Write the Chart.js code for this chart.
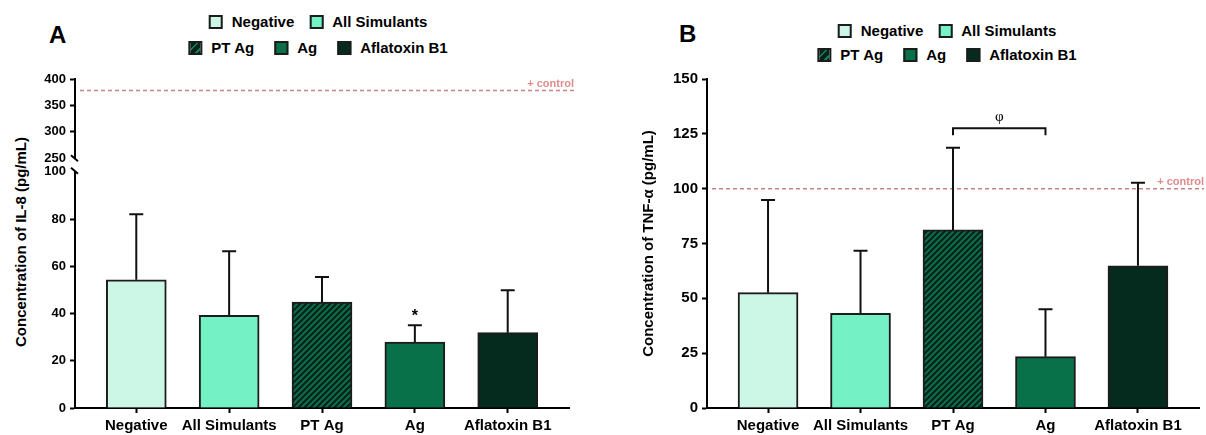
<!DOCTYPE html>
<html lang="en">
<head>
<meta charset="utf-8">
<title>IL-8 and TNF-α concentrations</title>
<script src="https://cdn.jsdelivr.net/npm/chart.js@4.4.1/dist/chart.umd.min.js"></script>
<style>
  body { margin: 0; background: #fff; }
  #page { position: relative; width: 1206px; height: 435px; overflow: hidden;
          font-family: 'Liberation Sans', Arial, sans-serif; font-weight: bold; color: #000; }
  .abs { position: absolute; }
  .letter { font-size: 24px; line-height: 24px; }
  .legendRow { display: flex; align-items: center; font-size: 15px; line-height: 18px;
               white-space: nowrap; transform: translateX(-50%); }
  .legendItem { display: flex; align-items: center; }
  .swatch { width: 10px; height: 10px; border: 2px solid #1c1c1c; margin-right: 9px; }
  .ytitle { font-size: 15px; line-height: 15px; white-space: nowrap;
            transform: translate(-50%, -50%) rotate(-90deg); }
</style>
</head>
<body>
<div id="page">
  <div class="abs letter" style="left:49px;top:23px">A</div>
  <div class="abs letter" style="left:679px;top:22px">B</div>
  <div id="legendA"></div>
  <div id="legendB"></div>
  <div class="abs ytitle" style="left:20px;top:242px">Concentration of IL-8 (pg/mL)</div>
  <div class="abs" style="left:0;top:60px;width:600px;height:110px"><canvas id="chartATop"></canvas></div>
  <div class="abs" style="left:0;top:160px;width:600px;height:275px"><canvas id="chartA"></canvas></div>
  <div class="abs" style="left:600px;top:60px;width:606px;height:375px"><canvas id="chartB"></canvas></div>
</div>

<script>
// data
const categories = ['Negative', 'All Simulants', 'PT Ag', 'Ag', 'Aflatoxin B1'];

const il8Means = [54.3, 39.2, 44.8, 27.9, 31.9];
const il8Sd = [27.7, 27.2, 10.7, 7.1, 18.0];
const il8Marks = ['', '', '', '*', ''];
const il8Control = 378;
const il8LowTicks = [0, 20, 40, 60, 80, 100];
const il8HighTicks = [250, 300, 350, 400];

const tnfMeans = [52.6, 43.2, 81.2, 23.4, 64.8];
const tnfSd = [42.2, 28.5, 37.5, 21.6, 37.9];
const tnfBracket = [2, 3, 127.5, 'φ'];
const tnfControl = 100;
const tnfTicks = [0, 25, 50, 75, 100, 125, 150];

const legendRows = [[0, 1], [2, 3, 4]];

Chart.defaults.font.family = "'Liberation Sans', Arial, sans-serif";
Chart.defaults.color = '#000';

function hatch(base, line) {
    const c = document.createElement('canvas');
    c.width = 6;
    c.height = 6;
    const g = c.getContext('2d');
    g.fillStyle = base;
    g.fillRect(0, 0, 6, 6);
    g.strokeStyle = line;
    g.lineWidth = 2.2;
    g.beginPath();
    g.moveTo(0, 6); g.lineTo(6, 0);
    g.moveTo(-3, 3); g.lineTo(3, -3);
    g.moveTo(3, 9); g.lineTo(9, 3);
    g.stroke();
    return g.createPattern(c, 'repeat');
}

const barFills = ['#ccf7e6', '#74f2c6', hatch('#0c6e4b', '#06231a'), '#08714a', '#042b1e'];
const swatchCss = [
    '#ccf7e6',
    '#74f2c6',
    'repeating-linear-gradient(135deg, #06231a 0px, #06231a 4px, #10805a 4px, #10805a 6px)',
    '#08714a',
    '#042b1e'
];

function buildLegend(id, cx, rowY, gaps) {
    const holder = document.getElementById(id);
    legendRows.forEach((row, r) => {
        const div = document.createElement('div');
        div.className = 'abs legendRow';
        div.style.left = cx + 'px';
        div.style.top = (rowY[r] - 9) + 'px';
        div.style.gap = gaps[r] + 'px';
        row.forEach(i => {
            const item = document.createElement('div');
            item.className = 'legendItem';
            const sw = document.createElement('span');
            sw.className = 'swatch';
            sw.style.background = swatchCss[i];
            item.appendChild(sw);
            item.appendChild(document.createTextNode(categories[i]));
            div.appendChild(item);
        });
        holder.appendChild(div);
    });
}

buildLegend('legendA', 318, [22, 48], [15, 20]);
buildLegend('legendB', 947, [31, 55], [15, 20]);

// error bars, significance marks, + control line and axis break marks
const extras = {
    id: 'extras',
    afterDatasetsDraw(chart, args, o) {
        const ctx = chart.ctx;
        const area = chart.chartArea;
        const y = chart.scales.y;
        ctx.save();

        if (o.control !== undefined) {
            const yc = y.getPixelForValue(o.control);
            ctx.strokeStyle = '#c98585';
            ctx.lineWidth = 1.5;
            ctx.setLineDash([4, 3]);
            ctx.beginPath();
            ctx.moveTo(area.left + 5, yc);
            ctx.lineTo(area.right + 5, yc);
            ctx.stroke();
            ctx.setLineDash([]);
            ctx.fillStyle = '#e08c8c';
            ctx.font = "bold 11px 'Liberation Sans', Arial, sans-serif";
            ctx.textAlign = 'right';
            ctx.textBaseline = 'middle';
            ctx.fillText('+ control', area.right + 5, yc - 7);
        }

        ctx.strokeStyle = '#111';
        ctx.fillStyle = '#000';
        ctx.lineWidth = 2;

        if (o.sd) {
            const meta = chart.getDatasetMeta(0);
            meta.data.forEach((bar, i) => {
                const top = y.getPixelForValue(o.means[i] + o.sd[i]);
                ctx.beginPath();
                ctx.moveTo(bar.x, bar.y);
                ctx.lineTo(bar.x, top);
                ctx.moveTo(bar.x - 7, top);
                ctx.lineTo(bar.x + 7, top);
                ctx.stroke();
                if (o.marks && o.marks[i]) {
                    ctx.font = "bold 16px 'Liberation Sans', Arial, sans-serif";
                    ctx.textAlign = 'center';
                    ctx.textBaseline = 'alphabetic';
                    ctx.fillText(o.marks[i], bar.x, top - 4);
                }
            });
        }

        if (o.bracket) {
            const [from, to, value, label] = o.bracket;
            const x = chart.scales.x;
            const x1 = x.getPixelForValue(from);
            const x2 = x.getPixelForValue(to);
            const yb = y.getPixelForValue(value);
            ctx.beginPath();
            ctx.moveTo(x1, yb + 7);
            ctx.lineTo(x1, yb);
            ctx.lineTo(x2, yb);
            ctx.lineTo(x2, yb + 7);
            ctx.stroke();
            ctx.font = "15px 'Liberation Serif', serif";
            ctx.textAlign = 'center';
            ctx.textBaseline = 'middle';
            ctx.fillText(label, (x1 + x2) / 2, yb - 11);
        }

        if (o.breakAt) {
            const yk = o.breakAt === 'top' ? area.top - 1 : area.bottom;
            ctx.strokeStyle = '#000';
            ctx.beginPath();
            ctx.moveTo(area.left - 4, yk - 3);
            ctx.lineTo(area.left + 3, yk + 3);
            ctx.stroke();
        }
        ctx.restore();
    }
};
Chart.register(extras);

function xAxis(show) {
    return {
        type: 'linear',
        display: show,
        min: -0.66,
        max: 4.66,
        offset: false,
        afterBuildTicks: s => { s.ticks = categories.map((c, i) => ({ value: i })); },
        afterFit: s => { s.height = show ? 27 : 0; },
        grid: { offset: false, drawOnChartArea: false, tickLength: 5, tickWidth: 2, tickColor: '#000' },
        border: { color: '#000', width: 2 },
        ticks: {
            color: '#000',
            padding: 4,
            maxRotation: 0,
            autoSkip: false,
            font: { size: 15, weight: 'bold' },
            callback: v => categories[v]
        }
    };
}

function yAxis(min, max, values, size, width, hide) {
    return {
        min: min,
        max: max,
        afterBuildTicks: s => { s.ticks = values.map(v => ({ value: v })); },
        afterFit: s => { s.width = width; },
        grid: {
            drawOnChartArea: false,
            tickLength: 5,
            tickWidth: 2,
            tickColor: c => (c.tick && c.tick.value === hide) ? 'rgba(0,0,0,0)' : '#000'
        },
        border: { color: '#000', width: 2 },
        ticks: { color: '#000', padding: 4, autoSkip: false, font: { size: size, weight: 'bold' } }
    };
}

function barData(means) {
    return {
        datasets: [{
            data: means.map((v, i) => ({ x: i, y: v })),
            backgroundColor: barFills,
            borderColor: '#1c1c1c',
            borderWidth: 2,
            barThickness: 60
        }]
    };
}

const common = {
    responsive: true,
    maintainAspectRatio: false,
    animation: false,
    events: []
};

// panel A, upper segment of the broken axis
new Chart(document.getElementById('chartATop'), {
    type: 'bar',
    data: { datasets: [] },
    options: {
        ...common,
        layout: { padding: { left: 0, right: 31, top: 19, bottom: 11 } },
        scales: {
            x: xAxis(false),
            y: yAxis(250, 400, il8HighTicks, 13, 75, 250)
        },
        plugins: {
            legend: { display: false },
            tooltip: { enabled: false },
            extras: { control: il8Control, breakAt: 'bottom' }
        }
    }
});

// panel A, lower segment with the bars
new Chart(document.getElementById('chartA'), {
    type: 'bar',
    data: barData(il8Means),
    options: {
        ...common,
        layout: { padding: { left: 0, right: 31, top: 9, bottom: 0 } },
        scales: {
            x: xAxis(true),
            y: yAxis(0, 100, il8LowTicks, 13, 75, 100)
        },
        plugins: {
            legend: { display: false },
            tooltip: { enabled: false },
            extras: { means: il8Means, sd: il8Sd, marks: il8Marks, breakAt: 'top' }
        }
    }
});

// panel B
const yB = yAxis(0, 150, tnfTicks, 15, 67, null);
yB.title = {
    display: true,
    text: 'Concentration of TNF-α (pg/mL)',
    color: '#000',
    padding: 0,
    font: { size: 15, weight: 'bold' }
};

new Chart(document.getElementById('chartB'), {
    type: 'bar',
    data: barData(tnfMeans),
    options: {
        ...common,
        layout: { padding: { left: 40, right: 7, top: 19, bottom: 0 } },
        scales: {
            x: xAxis(true),
            y: yB
        },
        plugins: {
            legend: { display: false },
            tooltip: { enabled: false },
            extras: { means: tnfMeans, sd: tnfSd, bracket: tnfBracket, control: tnfControl }
        }
    }
});
</script>
</body>
</html>
